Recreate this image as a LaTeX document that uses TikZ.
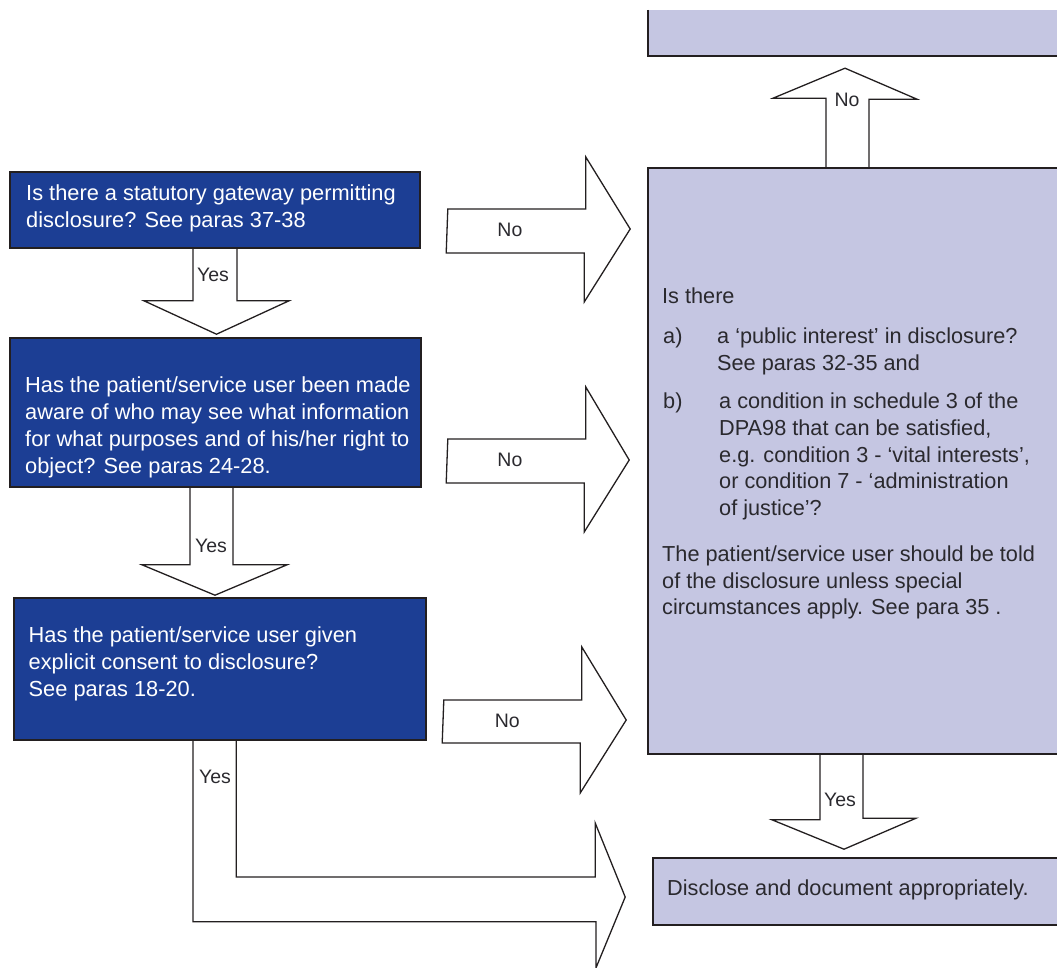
\documentclass[tikz,border=0pt]{standalone}
\usepackage{fontspec}
\setmainfont{Liberation Sans}
\usetikzlibrary{calc}

\definecolor{gatewayblue}{HTML}{1C3E94}
\definecolor{panel}{HTML}{C5C6E2}
\definecolor{ink}{HTML}{231F20}
\definecolor{greytext}{HTML}{2A292E}

\tikzset{
  darkbox/.style={rectangle,draw=ink,fill=gatewayblue,line width=1.6pt,inner sep=0pt},
  lightbox/.style={rectangle,draw=ink,fill=panel,line width=1.6pt,inner sep=0pt},
  blockarrow/.style={draw=ink,line width=1.3pt,line join=miter},
  darktext/.style={anchor=west,align=left,inner sep=0pt,text=white,font=\fontsize{21.8}{27}\selectfont},
  lighttext/.style={anchor=west,align=left,inner sep=0pt,text=greytext,font=\fontsize{21.7}{26.7}\selectfont},
  lbl/.style={inner sep=0pt,text=greytext,font=\fontsize{19.5}{21}\selectfont},
}

\begin{document}
\begin{tikzpicture}[x=1pt,y=-1pt]

        \useasboundingbox (0,0) rectangle (1057,967);
        \clip (0,0) rectangle (1057,967);

        % question boxes
        \node[darkbox,minimum width=410,minimum height=76]  (q1) at (215,210)   {};
        \node[darkbox,minimum width=411,minimum height=149] (q2) at (215.5,412.5) {};
        \node[darkbox,minimum width=412,minimum height=142] (q3) at (220,669)   {};

        \node[darktext] (q1t) at (26,208.5) {Is there a statutory gateway permitting\\disclosure? See paras 37-38};
        \node[darktext] (q2t) at (25,427) {Has the patient/service user been made\\aware of who may see what information\\for what purposes and of his/her right to\\object? See paras 24-28.};
        \node[darktext] (q3t) at (28.5,664) {Has the patient/service user given\\explicit consent to disclosure?\\See paras 18-20.};

        % right hand column
        \node[fill=panel,minimum width=440,minimum height=46,inner sep=0pt] (top) at (868,33) {};
        \draw[ink,line width=1.6pt] (top.north west) -- (top.south west) -- (top.south east);
        \node[lightbox,minimum width=440,minimum height=586] (pi)  at (868,461)   {};
        \node[lightbox,minimum width=435,minimum height=67]  (dis) at (870.5,891.5) {};

        \begin{scope}[every node/.style={lighttext}]
          \node (pit)  at (662,296)   {Is there};
          \node (pia)  at (663,338)   {a)};
          \node (piat) at (717,351.5) {a ‘public interest’ in disclosure?\\See paras 32-35 and};
          \node (pib)  at (663,403)   {b)};
          \node (pibt) at (719,456.5) {a condition in schedule 3 of the\\DPA98 that can be satisfied,\\e.g. condition 3 - ‘vital interests’,\\or condition 7 - ‘administration\\of justice’?};
          \node (pie)  at (662,582.5) {The patient/service user should be told\\of the disclosure unless special\\circumstances apply. See para 35 .};
          \node (dist) at (667,890)   {Disclose and document appropriately.};
        \end{scope}

        % yes arrows down the left
        \draw[blockarrow] ($(q1.south)+(-22,0)$) -- ++(0,52) node[lbl,midway,xshift=20] {Yes}
          -- ++(-49,0) -- ($(q2.north)+(1,-3)$) -- ($(q1.south)+(74,52)$) -- ++(-52,0) -- ++(0,-52);
        \draw[blockarrow] ($(q2.south)+(-25.5,0)$) -- ++(0,77) node[lbl,pos=0.75,xshift=21] {Yes}
          -- ++(-48,0) -- ($(q3.north)+(-5,-2)$) -- ($(q2.south)+(71.5,77)$) -- ++(-54,0) -- ++(0,-77);
        \draw[blockarrow] ($(q3.south)+(-27,0)$) -- ++(0,181) node[lbl,pos=0.2,xshift=22] {Yes}
          -- ++(403,0) -- ++(0,46) -- ($(dis.west)+(-27,5.5)$) -- ++(-30,-74) -- ++(0,54)
          -- ++(-359,0) -- ++(0,-137);

        % no arrows across
        \draw[blockarrow] ($(q1.east)+(27,-1)$) -- ++(138,0) node[lbl,pos=0.45,yshift=-21] {No}
          -- ++(0,-52) -- ($(q1.east -| pi.west)+(-17,19)$) -- ++(-46,73) -- ++(0,-49) -- ++(-138,0) -- cycle;
        \draw[blockarrow] ($(q2.east)+(26,26.5)$) -- ++(138,0) node[lbl,pos=0.45,yshift=-21] {No}
          -- ++(0,-52) -- ($(q2.east -| pi.west)+(-18,47.5)$) -- ++(-45,72) -- ++(0,-49) -- ++(-138,0) -- cycle;
        \draw[blockarrow] ($(q3.east)+(17,31)$) -- ++(138,0) node[lbl,pos=0.46,yshift=-21] {No}
          -- ++(0,-53) -- ($(q3.east -| pi.west)+(-21,51)$) -- ++(-46,73) -- ++(0,-50) -- ++(-138,0) -- cycle;

        % right column arrows
        \draw[blockarrow] ($(pi.north)+(-42,0)$) -- ++(0,-69) node[lbl,pos=0.97,xshift=21] {No}
          -- ++(-53,0) -- ($(top.south)+(-23,12)$) -- ++(72,31) -- ++(-48,0) -- ++(0,69);
        \draw[blockarrow] ($(pi.south)+(-48,0)$) -- ++(0,65) node[lbl,pos=0.7,xshift=20] {Yes}
          -- ++(-48,0) -- ($(dis.north)+(-26.5,-8)$) -- ++(72,-31) -- ++(-53,0) -- ++(0,-65);

      \end{tikzpicture}
\end{document}
